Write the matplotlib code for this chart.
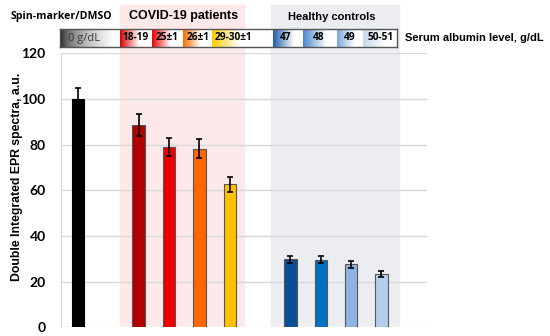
import numpy as np
import matplotlib.pyplot as plt
import matplotlib.transforms as mtransforms
from matplotlib.colors import to_rgb

# bar data (slot = category position, gaps at 1 and 6)
slots = [0, 2, 3, 4, 5, 7, 8, 9, 10]
values = [100, 88.6, 79.0, 78.3, 62.6, 29.8, 29.6, 27.6, 23.4]
errors = [5.0, 4.6, 4.0, 4.0, 3.2, 1.6, 1.6, 1.5, 1.2]
bar_colors = ["#000000", "#B00000", "#EE0000", "#FF6600", "#FFC000",
              "#0A4F95", "#0070C0", "#8DB4E2", "#B4CDEC"]
yticks = [0, 20, 40, 60, 80, 100, 120]

# header legend strip
seg_labels = ["0 g/dL", "18-19", "25\u00b11", "26\u00b11", "29-30\u00b11", "47", "48", "49", "50-51"]
seg_colors = ["#000000", "#D80000", "#E80000", "#FF6A00", "#FFCC00",
              "#1F5CA8", "#4A88CF", "#7BA7DB", "#C8D8EE"]
seg_edges = [60, 120, 152, 183, 212, 273, 303, 337, 363, 397]
seg_fade = [0.9, 0.6, 0.6, 0.6, 0.45, 0.7, 0.7, 0.7, 0.7]
seg_gamma = [0.45, 1, 1, 1, 1, 1, 1, 1, 1]
seg_text_x = [68, 136, 167.5, 198.5, 233, 285.5, 319, 349.5, 380.5]

W, H = 550, 336
fig = plt.figure(figsize=(W / 100, H / 100), dpi=100)


def fx(x):
    return x / W


def fy(y):
    return 1 - y / H


ax = fig.add_axes([fx(61), fy(327.3), fx(427) - fx(61), fy(53.3) - fy(327.3)])
ax.set_facecolor("none")
ax.set_xlim(-0.56, 11.5)
ax.set_ylim(0, 120)

# shaded group backgrounds (x in data, y in figure)
trans = mtransforms.blended_transform_factory(ax.transData, fig.transFigure)
ax.add_patch(plt.Rectangle((1.38, fy(325)), 5.47 - 1.38, fy(5) - fy(325),
                           transform=trans, color="#FDE9E9", zorder=-5, clip_on=False))
ax.add_patch(plt.Rectangle((6.37, fy(325)), 10.58 - 6.37, fy(5) - fy(325),
                           transform=trans, color="#ECEDF1", zorder=-5, clip_on=False))

for y in yticks:
    ax.axhline(y, color="#D9D9D9", lw=1, zorder=0)

edge_cols = ["#000000"] + ["#555555"] * 8
ax.bar(slots, values, width=0.41, color=bar_colors, edgecolor=edge_cols, linewidth=0.8, zorder=2)
ax.errorbar(slots, values, yerr=errors, fmt="none", ecolor="black", elinewidth=1.2,
            capsize=2, capthick=1.2, zorder=3)

for s in ["top", "right", "bottom"]:
    ax.spines[s].set_visible(False)
ax.spines["left"].set_color("#D9D9D9")
ax.set_xticks([])
ax.set_yticks(yticks)
ax.tick_params(axis="y", length=0, pad=11)
for lab in ax.get_yticklabels():
    lab.set_fontfamily("Lato")
    lab.set_fontweight("bold")
    lab.set_fontsize(10)
ax.set_ylabel("Double Integrated EPR spectra, a.u.", fontfamily="Liberation Sans",
              fontweight="bold", fontsize=8.8)
ax.yaxis.set_label_coords((23 - 61) / 366, 0.55)

# header strip with gradients
hx = fig.add_axes([fx(60), fy(47), fx(397) - fx(60), fy(29) - fy(47)])
for i, c in enumerate(seg_colors):
    x0, x1 = seg_edges[i], seg_edges[i + 1]
    t = np.linspace(0, 1, 200)
    k = (np.clip(t / seg_fade[i], 0, 1) ** seg_gamma[i])[:, None]
    rgb = np.array(to_rgb(c))[None, :] * (1 - k) + k
    hx.imshow(rgb[None, :, :], extent=(x0, x1, 0, 1), aspect="auto", interpolation="bilinear")
    if i == 0:
        hx.text(seg_text_x[i], 0.5, seg_labels[i], ha="left", va="center", color="#3A3A3A",
                fontsize=8, fontfamily="Open Sans")
    else:
        hx.text(seg_text_x[i], 0.5, seg_labels[i], ha="center", va="center", color="black",
                fontsize=7.3, fontweight="bold", fontfamily="Open Sans")
hx.set_xlim(60, 397)
hx.set_ylim(0, 1)
hx.set_xticks([])
hx.set_yticks([])
for sp in hx.spines.values():
    sp.set_color("#555555")
    sp.set_linewidth(1)

fig.text(fx(11), fy(16), "Spin-marker/DMSO", ha="left", va="center", fontsize=7.6,
         fontweight="bold", fontfamily="Open Sans")
fig.text(fx(183.5), fy(16.5), "COVID-19 patients", ha="center", va="center", fontsize=9,
         fontweight="bold", fontfamily="Liberation Sans")
fig.text(fx(332), fy(17), "Healthy controls", ha="center", va="center", fontsize=8,
         fontweight="bold", fontfamily="Liberation Sans")
fig.text(fx(405), fy(38), "Serum albumin level, g/dL", ha="left", va="center", fontsize=8,
         fontweight="bold", fontfamily="Liberation Sans")

fig.savefig("out.png", dpi=100)
